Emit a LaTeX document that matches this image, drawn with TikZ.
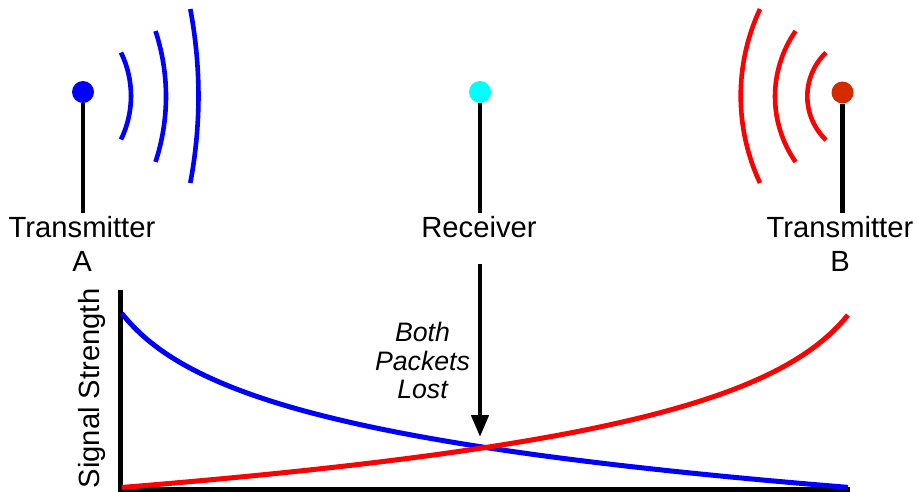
\documentclass[tikz,border=0pt]{standalone}
\usepackage{fontspec}
\setmainfont{Liberation Sans}
\usetikzlibrary{arrows.meta}
\definecolor{tblue}{RGB}{0,0,255}
\definecolor{tred}{RGB}{255,0,0}
\definecolor{dotred}{RGB}{212,42,0}
\definecolor{tcyan}{RGB}{0,255,255}
\tikzset{
  antdot/.style={circle, inner sep=0pt, minimum size=22pt},
  stick/.style={line width=4.6pt, black},
  wave/.style={line width=4.6pt},
  lbl/.style={font=\fontsize{29.2}{34}\selectfont, inner sep=0pt, anchor=base},
  lostlbl/.style={font=\fontsize{26.7}{29}\selectfont\itshape, inner sep=0pt, anchor=base},
  axisline/.style={line width=5pt, black},
  curve/.style={line width=5pt},
}
\begin{document}
\begin{tikzpicture}[x=1pt, y=-1pt]
\useasboundingbox (0,0) rectangle (917,491);

% transmitter A
\node[antdot, fill=tblue] (dA) at (83,92) {};
\coordinate (sA) at (83,213);
\draw[stick] (dA.south) -- (sA);
\draw[wave, tblue] (31.4,96) ++(-25.9:99.6) arc[start angle=-25.9, end angle=25.9, radius=99.6];
\draw[wave, tblue] (-43.5,96.5) ++(-18.2:209.5) arc[start angle=-18.2, end angle=18.2, radius=209.5];
\draw[wave, tblue] (-267.1,96) ++(-10.77:465.6) arc[start angle=-10.77, end angle=10.77, radius=465.6];
\node[lbl] (tA1) at (82,237.3) {Transmitter};
\node[lbl] (tA2) at (82,271.7) {A};

% receiver
\node[antdot, fill=tcyan] (dR) at (480,92) {};
\coordinate (sR) at (480,213);
\draw[stick] (dR.south) -- (sR);
\node[lbl] (tR) at (479,237.3) {Receiver};

% transmitter B
\node[antdot, fill=dotred] (dB) at (842.5,92.5) {};
\coordinate (sB) at (842.5,213);
\draw[stick] (dB.south) -- (sB);
\draw[wave, tred] (867.8,96.3) ++(133.7:60.5) arc[start angle=133.7, end angle=226.3, radius=60.5];
\draw[wave, tred] (889.4,96.5) ++(145.1:114.4) arc[start angle=145.1, end angle=214.9, radius=114.4];
\draw[wave, tred] (946.4,96) ++(155:205.7) arc[start angle=155, end angle=205, radius=205.7];
\node[lbl] (tB1) at (840,237.3) {Transmitter};
\node[lbl] (tB2) at (840,271.7) {B};

% axes
\coordinate (Ytop) at (120,290);
\coordinate (O) at (120,489.5);
\coordinate (Xend) at (850,489.5);
\draw[axisline] (Ytop) -- (O) -- (Xend);
\node[lbl, rotate=90] (ylab) at (99.5,388.5) {Signal Strength};

% curves (logarithmic signal strength)
\draw[curve, tblue] plot[domain=0:1, samples=150, variable=\t]
  ({121.7+727.6*\t}, {313.3+63.4*ln(1+\t/0.0685)});
\draw[curve, tred] plot[domain=0:1, samples=150, variable=\t]
  ({121.7+727.6*\t}, {313.3+63.4*ln(1+(1-\t)/0.0685)});

% arrow
\coordinate (arrTop) at (480,264);
\coordinate (arrTip) at (480,437);
\draw[line width=4.6pt, -{Triangle[length=22pt, width=17pt]}] (arrTop) -- (arrTip);
\node[lostlbl] (l1) at (422.5,341) {Both};
\node[lostlbl] (l2) at (422.5,370) {Packets};
\node[lostlbl] (l3) at (422.5,398) {Lost};
\end{tikzpicture}
\end{document}
